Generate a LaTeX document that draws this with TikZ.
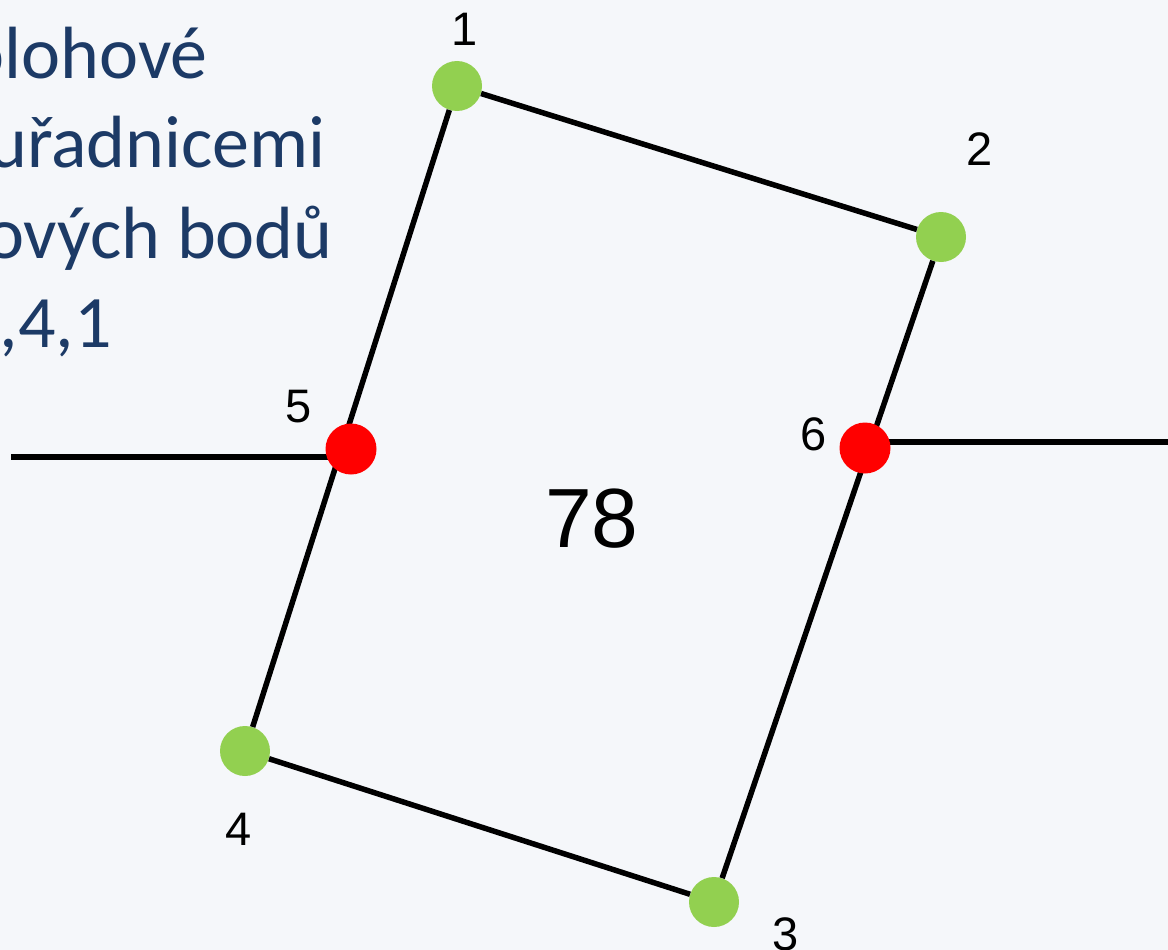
\documentclass[tikz,border=0pt]{standalone}
\usepackage{fontspec}
\setmainfont{Liberation Sans}
\newfontfamily\bodyfont{Carlito}
\definecolor{bgc}{RGB}{245,247,250}
\definecolor{txtblue}{RGB}{28,58,102}
\definecolor{ptgreen}{RGB}{146,208,80}
\definecolor{ptred}{RGB}{255,0,0}
\begin{document}
\begin{tikzpicture}[x=1pt,y=-1pt,
  greendot/.style={circle,fill=ptgreen,minimum size=50pt,inner sep=0pt},
  reddot/.style={circle,fill=ptred,minimum size=51pt,inner sep=0pt},
  edge/.style={line width=5.5pt,black},
  ptlabel/.style={inner sep=0pt,font=\fontsize{47}{56}\selectfont},
  bigtxt/.style={anchor=base east,inner sep=0pt,text=txtblue,font=\bodyfont\fontsize{74}{89}\selectfont}]
\fill[bgc] (0,0) rectangle (1168,950);
\useasboundingbox (0,0) rectangle (1168,950);
% text block
\node[bigtxt] (t1) at (208,79) {olohové};
\node[bigtxt] (t2) at (326,167) {uřadnicemi};
\node[bigtxt] (t3) at (333,258) {ových bodů};
\node[bigtxt] (t4) at (112,347) {,4,1};
% points
\node[greendot] (p1) at (457,86) {};
\node[greendot] (p2) at (941,237) {};
\node[greendot] (p3) at (714,902) {};
\node[greendot] (p4) at (245,751) {};
% polygon edges
\draw[edge] (p1) -- (p2);
\draw[edge] (p2) -- (p3);
\draw[edge] (p3) -- (p4);
\draw[edge] (p4) -- (p1);
% connecting lines
\coordinate (L) at (11,457);
\coordinate (R) at (1168,442);
\draw[edge] (L) -- (351,457);
\draw[edge] (865,442) -- (R);
\node[reddot] (p5) at (351,449) {};
\node[reddot] (p6) at (865,448) {};
% labels
\node[ptlabel] (l1) at (465,29) {1};
\node[ptlabel] (l2) at (980,149) {2};
\node[ptlabel] (l3) at (786,934) {3};
\node[ptlabel] (l4) at (239,829) {4};
\node[ptlabel] (l5) at (299,407) {5};
\node[ptlabel] (l6) at (814,434) {6};
\node[inner sep=0pt,font=\fontsize{84}{100}\selectfont] (area) at (592,519) {78};
\end{tikzpicture}
\end{document}
